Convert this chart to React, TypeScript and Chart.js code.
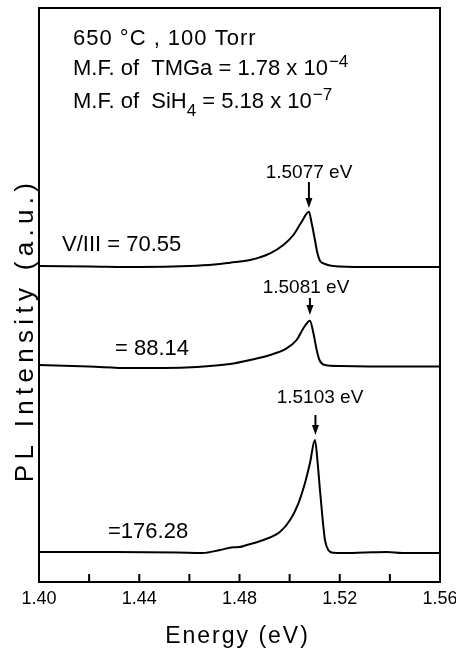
import { useEffect, useRef } from "react";
import { Chart, registerables } from "chart.js";

Chart.register(...registerables);

// Photon energy (eV) and PL intensity (a.u., above each trace's baseline)
const energyA = [1.4, 1.42, 1.44, 1.46, 1.47, 1.4762, 1.4842, 1.4922, 1.4975, 1.5015, 1.5048, 1.5077, 1.5088, 1.5101, 1.5111, 1.5121, 1.5141, 1.5173, 1.53, 1.545, 1.56];
const intensityA = [0, -0.5, -1, 0, 1.5, 3.3, 6, 12.7, 21, 31, 44.3, 54.3, 42.7, 26, 12.7, 5.3, 2, 0, -1, -1, -1];

const energyB = [1.4, 1.42, 1.436, 1.45, 1.463, 1.4762, 1.4842, 1.4922, 1.4988, 1.5028, 1.5055, 1.5081, 1.5095, 1.5108, 1.5119, 1.5141, 1.5201, 1.54, 1.56];
const intensityB = [0, -1.5, -3, -3, -2, 1, 5, 10, 16.7, 25, 36.7, 44.3, 31.7, 15, 5, 0, -1, -1.5, -1.5];

const energyC = [1.4, 1.43, 1.455, 1.4654, 1.4722, 1.4775, 1.48, 1.4829, 1.4895, 1.4962, 1.5002, 1.5035, 1.5061, 1.5081, 1.5101, 1.5112, 1.5121, 1.5132, 1.5141, 1.5154, 1.5174, 1.5213, 1.53, 1.5389, 1.545, 1.56];
const intensityC = [0, 0, -0.5, -1, 2, 4.7, 5, 7, 12, 20.3, 32, 48.7, 68.7, 88.7, 112, 88.7, 62, 32, 12, 2, -0.7, -1, -0.5, 0, -1, -1];

// vertical offsets of the stacked traces (a.u.)
const traceOffsets = [316, 217, 30];

const ratioLabels = ["V/III = 70.55", "= 88.14", "=176.28"];
const peakEnergies = [1.5077, 1.5081, 1.5103];
const peakLabels = ["1.5077 eV", "1.5081 eV", "1.5103 eV"];
const tickLabels = ["1.40", "1.44", "1.48", "1.52", "1.56"];

const FONT = '"Liberation Sans", Arial, sans-serif';

function toPoints(es: number[], is: number[], off: number) {
  return es.map((e, i) => ({ x: e, y: is[i] + off }));
}

const decorPlugin = {
  id: "decor",
  afterDraw(chart: any) {
    const { ctx, chartArea: a, scales } = chart;
    const xs = scales.x;
    const ys = scales.y;
    const px = (e: number) => xs.getPixelForValue(e);
    const py = (v: number) => ys.getPixelForValue(v);
    ctx.save();
    ctx.strokeStyle = "#000";
    ctx.fillStyle = "#000";
    // frame
    ctx.lineWidth = 2;
    ctx.strokeRect(a.left, a.top, a.right - a.left, a.bottom - a.top);
    // inward ticks
    for (const t of xs.ticks) {
      const xx = px(t.value);
      if (xx <= a.left + 2 || xx >= a.right - 2) continue;
      ctx.beginPath();
      ctx.moveTo(xx, a.bottom);
      ctx.lineTo(xx, a.bottom - 8);
      ctx.stroke();
    }

    const setSpacing = (s: number) => {
      (ctx as any).letterSpacing = `${s}px`;
    };
    const text = (s: string, x: number, y: number, size: number, align: CanvasTextAlign = "left") => {
      ctx.font = `${size}px ${FONT}`;
      ctx.textAlign = align;
      ctx.textBaseline = "alphabetic";
      ctx.fillText(s, x, y);
      return ctx.measureText(s).width;
    };

    // header text
    const hx = px(1.41357);
    setSpacing(1);
    text("650 °C , 100 Torr", hx, py(537), 22);
    setSpacing(0);
    let w = text("M.F. of  TMGa = 1.78 x 10", hx, py(507), 22);
    text("\u22124", hx + w + 1, py(507) - 8, 17);
    w = text("M.F. of  SiH", hx, py(474), 22);
    const w2 = text("4", hx + w, py(474) + 8, 17);
    const w3 = text(" = 5.18 x 10", hx + w + w2, py(474), 22);
    text("\u22127", hx + w + w2 + w3 + 1, py(474) - 8, 17);

    // peak labels and arrows
    const labelPos = [
      [1.50774, 404],
      [1.50654, 289],
      [1.51213, 179],
    ];
    const arrows = [
      [400, 374],
      [284, 267],
      [167, 147],
    ];
    peakEnergies.forEach((e, i) => {
      text(peakLabels[i], px(labelPos[i][0]), py(labelPos[i][1]), 19, "center");
      const ax = px(e);
      const y0 = py(arrows[i][0]);
      const y1 = py(arrows[i][1]);
      ctx.lineWidth = 2;
      ctx.beginPath();
      ctx.moveTo(ax, y0);
      ctx.lineTo(ax, y1 - 6);
      ctx.stroke();
      ctx.beginPath();
      ctx.moveTo(ax - 3.5, y1 - 10);
      ctx.lineTo(ax + 3.5, y1 - 10);
      ctx.lineTo(ax, y1);
      ctx.closePath();
      ctx.fill();
    });

    // ratio labels
    const ratioPos = [
      [1.40918, 331],
      [1.43033, 227],
      [1.42753, 44],
    ];
    ratioLabels.forEach((s, i) => text(s, px(ratioPos[i][0]), py(ratioPos[i][1]), 22));

    // axis titles
    setSpacing(2);
    text("Energy (eV)", (a.left + a.right) / 2 - 2, a.bottom + 61, 23, "center");
    ctx.save();
    ctx.translate(a.left - 6, (a.top + a.bottom) / 2 + 35);
    ctx.rotate(-Math.PI / 2);
    setSpacing(5.3);
    text("PL Intensity (a.u.)", 0, 0, 26, "center");
    ctx.restore();
    setSpacing(0);
    ctx.restore();
  },
};

export default function App() {
  const ref = useRef<HTMLCanvasElement | null>(null);
  useEffect(() => {
    if (!ref.current) return;
    const line = (data: any) => ({
      data,
      borderColor: "#000",
      borderWidth: 2,
      pointRadius: 0,
      fill: false,
      cubicInterpolationMode: "monotone" as const,
    });
    const chart = new Chart(ref.current, {
      type: "line",
      data: {
        datasets: [
          line(toPoints(energyA, intensityA, traceOffsets[0])),
          line(toPoints(energyB, intensityB, traceOffsets[1])),
          line(toPoints(energyC, intensityC, traceOffsets[2])),
        ],
      },
      options: {
        responsive: false,
        animation: false,
        devicePixelRatio: 1,
        layout: { padding: { left: 39, right: 16, top: 8, bottom: 0 } },
        plugins: { legend: { display: false }, tooltip: { enabled: false } },
        scales: {
          x: {
            type: "linear",
            min: 1.4,
            max: 1.56,
            grid: { display: false, drawTicks: false },
            border: { display: false },
            ticks: {
              stepSize: 0.02,
              autoSkip: false,
              maxRotation: 0,
              padding: 6,
              color: "#000",
              font: { family: FONT, size: 18 },
              callback: (v: any) => {
                const s = Number(v).toFixed(2);
                return tickLabels.includes(s) ? s : "";
              },
            },
            afterFit: (s: any) => {
              s.height = 74;
              s.paddingLeft = 0;
              s.paddingRight = 0;
            },
          } as any,
          y: {
            type: "linear",
            display: false,
            min: 0,
            max: 574,
          },
        },
      },
      plugins: [decorPlugin],
    });
    return () => chart.destroy();
  }, []);
  return (
    <div style={{ position: "absolute", left: 0, top: 0, width: 456, height: 656, background: "#fff" }}>
      <canvas ref={ref} width={456} height={656} style={{ display: "block" }} />
    </div>
  );
}
